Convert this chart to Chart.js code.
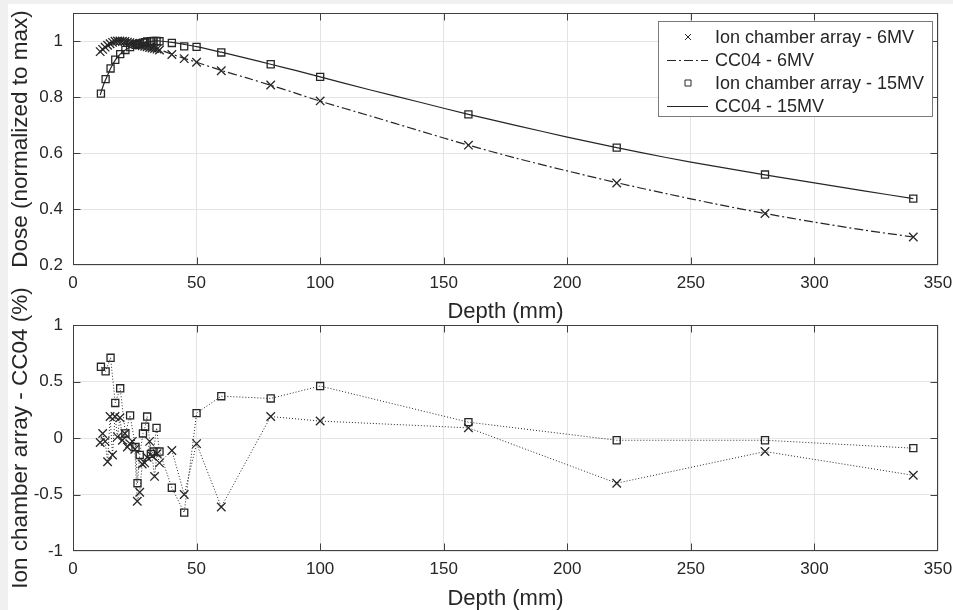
<!DOCTYPE html>
<html>
<head>
<meta charset="utf-8">
<script src="https://cdn.jsdelivr.net/npm/chart.js@4.4.1/dist/chart.umd.min.js"></script>
<style>
html, body { margin: 0; padding: 0; background: #f0f0f0; }
#fig { position: relative; width: 953px; height: 610px; overflow: hidden; }
#paper { position: absolute; left: 8px; top: 4px; right: 0; bottom: 0; background: #fff; }
#top { position: absolute; left: 0; top: 0; }
#bottom { position: absolute; left: 0; top: 280px; }
</style>
</head>
<body>
<div id="fig">
    <div id="paper"></div>
    <canvas id="top" width="953" height="330"></canvas>
    <canvas id="bottom" width="953" height="330"></canvas>
</div>
<script>
// depths (mm) of the ion chamber array readings
const depth6 = [11, 12, 13, 14, 15, 16, 17, 18, 19, 20, 21, 22, 23, 24, 25, 26, 27, 28, 29, 30,
    31, 32, 33, 34, 35, 40, 45, 50, 60, 80, 100, 160, 220, 280, 340];
const ica6 = [0.962, 0.970, 0.978, 0.985, 0.990, 0.995, 0.999, 1.000, 1.000, 0.999, 0.998, 0.996,
    0.994, 0.992, 0.990, 0.987, 0.985, 0.983, 0.981, 0.979, 0.977, 0.975, 0.973, 0.971, 0.968,
    0.952, 0.937, 0.924, 0.894, 0.843, 0.786, 0.628, 0.493, 0.384, 0.300];
const diff6 = [-0.04, 0.04, -0.03, -0.21, 0.19, -0.15, 0.19, 0.01, 0.18, -0.02, 0.04, -0.08,
    -0.05, -0.03, -0.10, -0.56, -0.48, -0.23, -0.22, -0.17, -0.03, -0.16, -0.34, -0.14, -0.22,
    -0.11, -0.50, -0.05, -0.61, 0.19, 0.15, 0.09, -0.40, -0.12, -0.33];

const depth15 = [11.3, 13.2, 15.2, 17.1, 19.1, 21.2, 23.1, 25.3, 26.1, 27, 28.3, 29.2, 30, 31.5,
    32.6, 33.8, 35, 40, 45, 50, 60, 80, 100, 160, 220, 280, 340];
const ica15 = [0.812, 0.864, 0.902, 0.933, 0.953, 0.968, 0.978, 0.986, 0.989, 0.991, 0.994, 0.996,
    0.998, 0.999, 1.000, 1.000, 0.999, 0.993, 0.981, 0.979, 0.959, 0.917, 0.872, 0.738, 0.619,
    0.523, 0.437];
const diff15 = [0.63, 0.59, 0.71, 0.31, 0.44, 0.04, 0.20, -0.08, -0.40, -0.15, 0.04, 0.10, 0.19,
    -0.14, -0.12, 0.09, -0.12, -0.44, -0.66, 0.22, 0.37, 0.35, 0.46, 0.14, -0.02, -0.02, -0.09];

// CC04 reference chamber curves
const ccDepth = [11, 12, 13, 14, 15, 16, 17, 18, 19, 20, 22, 24, 26, 28, 30, 32, 35, 40, 45, 50,
    60, 70, 80, 90, 100, 120, 140, 160, 180, 200, 220, 240, 260, 280, 300, 320, 340];
const cc6 = [0.962, 0.970, 0.978, 0.985, 0.990, 0.995, 0.998, 1.000, 1.000, 0.999, 0.996, 0.992,
    0.988, 0.984, 0.980, 0.976, 0.969, 0.953, 0.938, 0.924, 0.895, 0.869, 0.842, 0.814, 0.785,
    0.733, 0.680, 0.628, 0.580, 0.536, 0.494, 0.455, 0.418, 0.384, 0.353, 0.325, 0.300];
const cc15 = [0.807, 0.835, 0.858, 0.878, 0.898, 0.915, 0.930, 0.942, 0.952, 0.960, 0.972, 0.981,
    0.988, 0.993, 0.997, 0.999, 1.000, 0.995, 0.988, 0.980, 0.960, 0.939, 0.917, 0.895, 0.872,
    0.826, 0.782, 0.738, 0.697, 0.657, 0.619, 0.584, 0.552, 0.522, 0.493, 0.465, 0.437];

const legendLabels = ['Ion chamber array - 6MV', 'CC04 - 6MV', 'Ion chamber array - 15MV', 'CC04 - 15MV'];

const ink = '#262626';
const axisColor = '#404040';
const gridColor = '#e4e4e4';
const fontFamily = "Arial, 'Liberation Sans', Helvetica, sans-serif";
const dashDot = [9, 3, 2, 3];

function pairs(xs, ys) {
    return xs.map(function (x, i) {
        return { x: x, y: ys[i] };
    });
}

function tickLabel(v) {
    return String(Math.round(v * 10) / 10);
}

// MATLAB-like box with inward tick marks on all four sides
const axesBox = {
    id: 'axesBox',
    beforeDatasetsDraw(chart) {
        const ctx = chart.ctx;
        const a = chart.chartArea;
        const l = Math.round(a.left) + 0.5;
        const r = Math.round(a.right) - 0.5;
        const t = Math.round(a.top) + 0.5;
        const b = Math.round(a.bottom) - 0.5;
        const len = 7;
        ctx.save();
        ctx.strokeStyle = axisColor;
        ctx.lineWidth = 1;
        ctx.beginPath();
        chart.scales.x.ticks.forEach(function (tk) {
            let px = Math.round(chart.scales.x.getPixelForValue(tk.value)) + 0.5;
            px = Math.min(Math.max(px, l), r);
            ctx.moveTo(px, b);
            ctx.lineTo(px, b - len);
            ctx.moveTo(px, t);
            ctx.lineTo(px, t + len);
        });
        chart.scales.y.ticks.forEach(function (tk) {
            let py = Math.round(chart.scales.y.getPixelForValue(tk.value)) + 0.5;
            py = Math.min(Math.max(py, t), b);
            ctx.moveTo(l, py);
            ctx.lineTo(l + len, py);
            ctx.moveTo(r, py);
            ctx.lineTo(r - len, py);
        });
        ctx.stroke();
        ctx.strokeRect(l, t, r - l, b - t);
        ctx.restore();
    },
};

function drawMarker(ctx, style, x, y, s) {
    ctx.beginPath();
    if (style === 'crossRot') {
        ctx.moveTo(x - s, y - s);
        ctx.lineTo(x + s, y + s);
        ctx.moveTo(x - s, y + s);
        ctx.lineTo(x + s, y - s);
    } else {
        ctx.rect(x - s, y - s, 2 * s, 2 * s);
    }
    ctx.stroke();
}

// legend box drawn in the upper right corner of the top axes
const boxLegend = {
    id: 'boxLegend',
    afterDraw(chart) {
        const ctx = chart.ctx;
        const a = chart.chartArea;
        const right = Math.round(a.right) - 5;
        const left = right - 275;
        const top = Math.round(a.top) + 8;
        const rowH = 23;
        ctx.save();
        ctx.fillStyle = '#fff';
        ctx.fillRect(left, top, right - left, 96);
        ctx.strokeStyle = '#7a7a7a';
        ctx.lineWidth = 1;
        ctx.strokeRect(left + 0.5, top + 0.5, right - left - 1, 95);
        ctx.font = '18px ' + fontFamily;
        ctx.textBaseline = 'middle';
        chart.data.datasets.forEach(function (ds, i) {
            const y = top + 16 + i * rowH;
            ctx.strokeStyle = ds.borderColor;
            ctx.lineWidth = 1;
            if (ds.showLine === false) {
                drawMarker(ctx, ds.pointStyle, left + 30, y, 3);
            } else {
                ctx.setLineDash(ds.borderDash || []);
                ctx.beginPath();
                ctx.moveTo(left + 9, y + 0.5);
                ctx.lineTo(left + 50, y + 0.5);
                ctx.stroke();
                ctx.setLineDash([]);
            }
            ctx.fillStyle = ink;
            ctx.fillText(legendLabels[i], left + 57, y + 1);
        });
        ctx.restore();
    },
};

function xAxis(height, titlePad) {
    return {
        type: 'linear',
        min: 0,
        max: 350,
        grid: { color: gridColor, drawTicks: false },
        border: { display: false },
        ticks: {
            stepSize: 50,
            padding: 8,
            color: ink,
            font: { size: 17, family: fontFamily },
            maxRotation: 0,
        },
        title: {
            display: true,
            text: 'Depth (mm)',
            color: ink,
            font: { size: 22, family: fontFamily, lineHeight: 1 },
            padding: { top: 0, bottom: titlePad },
        },
        afterFit: function (scale) {
            scale.height = height;
            scale.paddingLeft = 0;
            scale.paddingRight = 0;
        },
    };
}

function yAxis(min, max, step, title) {
    return {
        type: 'linear',
        min: min,
        max: max,
        grid: { color: gridColor, drawTicks: false },
        border: { display: false },
        ticks: {
            stepSize: step,
            includeBounds: false,
            padding: 10,
            color: ink,
            font: { size: 17, family: fontFamily },
            callback: tickLabel,
        },
        title: {
            display: true,
            text: title,
            color: ink,
            font: { size: 22.5, family: fontFamily, lineHeight: 1 },
            padding: { top: 10, bottom: 0 },
        },
        afterFit: function (scale) {
            scale.width = 73;
            scale.paddingTop = 0;
            scale.paddingBottom = 0;
        },
    };
}

const common = {
    responsive: false,
    animation: false,
    events: [],
    plugins: { legend: { display: false }, tooltip: { enabled: false } },
};

new Chart(document.getElementById('top').getContext('2d'), {
    type: 'line',
    data: {
        datasets: [
            {
                data: pairs(depth6, ica6),
                showLine: false,
                pointStyle: 'crossRot',
                pointRadius: 6,
                pointBorderWidth: 1.3,
                borderColor: ink,
                pointBorderColor: ink,
                backgroundColor: 'transparent',
            },
            {
                data: pairs(ccDepth, cc6),
                borderColor: ink,
                borderWidth: 1.2,
                borderDash: dashDot,
                pointRadius: 0,
                tension: 0.3,
                fill: false,
            },
            {
                data: pairs(depth15, ica15),
                showLine: false,
                pointStyle: 'rect',
                pointRadius: 5,
                pointBorderWidth: 1.3,
                borderColor: ink,
                pointBorderColor: ink,
                backgroundColor: 'transparent',
            },
            {
                data: pairs(ccDepth, cc15),
                borderColor: ink,
                borderWidth: 1.2,
                pointRadius: 0,
                tension: 0.3,
                fill: false,
            },
        ],
    },
    options: Object.assign({}, common, {
        layout: { padding: { left: 0, top: 13, right: 15, bottom: 0 } },
        scales: {
            x: xAxis(65, 7),
            y: yAxis(0.2, 1.1, 0.2, 'Dose (normalized to max)'),
        },
    }),
    plugins: [axesBox, boxLegend],
});

new Chart(document.getElementById('bottom').getContext('2d'), {
    type: 'line',
    data: {
        datasets: [
            {
                data: pairs(depth6, diff6),
                pointStyle: 'crossRot',
                pointRadius: 6,
                pointBorderWidth: 1.3,
                pointBorderColor: ink,
                borderColor: ink,
                borderWidth: 1,
                borderDash: [1, 2],
                backgroundColor: 'transparent',
                fill: false,
            },
            {
                data: pairs(depth15, diff15),
                pointStyle: 'rect',
                pointRadius: 5,
                pointBorderWidth: 1.3,
                pointBorderColor: ink,
                borderColor: ink,
                borderWidth: 1,
                borderDash: [1, 2],
                backgroundColor: 'transparent',
                fill: false,
            },
        ],
    },
    options: Object.assign({}, common, {
        layout: { padding: { left: 0, top: 45, right: 15, bottom: 0 } },
        scales: {
            x: xAxis(59, 0),
            y: yAxis(-1, 1, 0.5, 'Ion chamber array - CC04 (%)'),
        },
    }),
    plugins: [axesBox],
});
</script>
</body>
</html>
